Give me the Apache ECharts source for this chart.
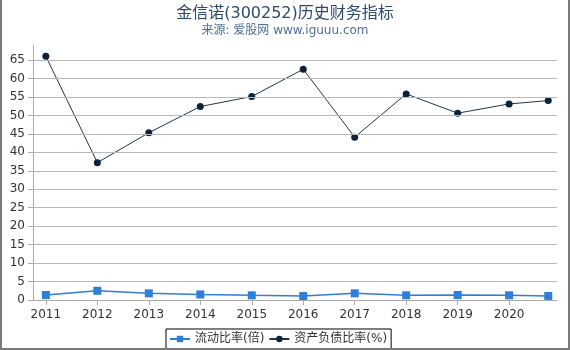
<!DOCTYPE html>
<html>
<head>
<meta charset="utf-8">
<script src="https://cdn.jsdelivr.net/npm/echarts@6/dist/echarts.min.js"></script>
<style>
  html, body { margin: 0; padding: 0; background: #fff; }
  #wrap { position: relative; width: 570px; height: 350px; }
  #chart { width: 570px; height: 350px; }
  #frame {
    position: absolute; left: 0; top: 0; width: 570px; height: 350px;
    box-sizing: border-box; border: 2px solid #7a7a7a; border-top: none;
    pointer-events: none;
  }
</style>
</head>
<body>
<div id="wrap">
  <div id="chart"></div>
  <div id="frame"></div>
</div>
<script>
// 연도 (마지막 점은 2021년 3분기)
const years = [2011, 2012, 2013, 2014, 2015, 2016, 2017, 2018, 2019, 2020, 2020.76];
const yearLabels = [2011, 2012, 2013, 2014, 2015, 2016, 2017, 2018, 2019, 2020];
const currentRatio = [1.35, 2.5, 1.8, 1.5, 1.27, 1.08, 1.8, 1.27, 1.35, 1.27, 1.1];
const debtRatio = [66.0, 37.2, 45.3, 52.4, 55.1, 62.5, 44.1, 55.8, 50.6, 53.1, 54.0];
const yTicks = [0, 5, 10, 15, 20, 25, 30, 35, 40, 45, 50, 55, 60, 65];

const chart = echarts.init(document.getElementById('chart'));

const font = 'DejaVu Sans, Noto Sans CJK SC, sans-serif';

const options = {
    animation: false,
    textStyle: { fontFamily: font },
    title: {
        text: '金信诺(300252)历史财务指标',
        subtext: '来源: 爱股网 www.iguuu.com',
        left: 'center',
        top: 1,
        itemGap: 3,
        textStyle: { fontSize: 16, fontWeight: 'normal', color: '#2b4a6e', fontFamily: font },
        subtextStyle: { fontSize: 12, color: '#4f6f9a', fontFamily: font }
    },
    legend: {
        bottom: 1,
        left: 166,
        padding: [4, 4, 4, 3],
        borderColor: '#000',
        borderWidth: 1,
        itemGap: 4,
        itemWidth: 20,
        itemHeight: 8,
        textStyle: { fontSize: 12, color: '#333', fontFamily: font },
        data: ['流动比率(倍)', '资产负债比率(%)']
    },
    grid: {
        left: 33,
        right: 13,
        top: 45,
        bottom: 50
    },
    xAxis: {
        type: 'value',
        min: 2010.75,
        max: 2020.93,
        axisLine: { lineStyle: { color: '#aaa' } },
        axisTick: { show: true, length: 5, lineStyle: { color: '#aaa' }, customValues: yearLabels },
        axisLabel: { color: '#333', fontSize: 12, margin: 9, customValues: yearLabels, formatter: v => String(v) },
        splitLine: { show: false }
    },
    yAxis: {
        type: 'value',
        min: 0,
        max: 69.06,
        axisLine: { show: true, lineStyle: { color: '#aaa' } },
        axisTick: { show: true, length: 5, lineStyle: { color: '#aaa' }, customValues: yTicks },
        axisLabel: { color: '#333', fontSize: 12, margin: 8, customValues: yTicks },
        splitLine: { show: false }
    },
    series: [
        {
            name: '流动比率(倍)',
            type: 'line',
            data: years.map((x, i) => [x, currentRatio[i]]),
            symbol: 'rect',
            symbolSize: 8,
            itemStyle: { color: '#2f7ed8' },
            lineStyle: { color: '#2f7ed8', width: 1.5 },
            markLine: {
                silent: true,
                symbol: 'none',
                label: { show: false },
                lineStyle: { color: '#b8b8b8', type: 'solid', width: 1 },
                data: yTicks.slice(1).map(v => ({ yAxis: v }))
            },
            z: 3
        },
        {
            name: '资产负债比率(%)',
            type: 'line',
            data: years.map((x, i) => [x, debtRatio[i]]),
            symbol: 'circle',
            symbolSize: 7,
            itemStyle: { color: '#0d233a' },
            lineStyle: { color: '#1f3550', width: 1 },
            z: 4
        }
    ]
};

chart.setOption(options);
</script>
</body>
</html>
